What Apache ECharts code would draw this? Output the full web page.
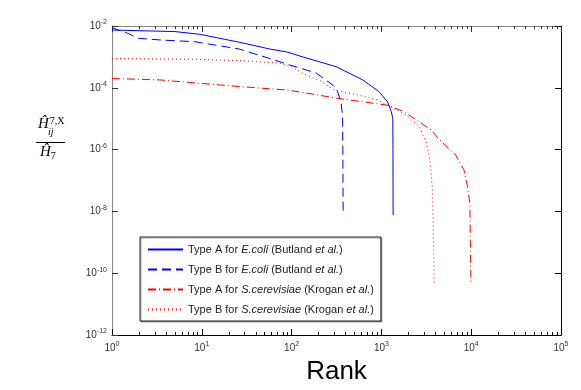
<!DOCTYPE html>
<html>
<head>
<meta charset="utf-8">
<script src="https://cdn.jsdelivr.net/npm/echarts@6/dist/echarts.min.js"></script>
<style>
  html, body { margin: 0; padding: 0; background: #fff; }
  #main { width: 581px; height: 390px; }
</style>
</head>
<body>
<div id="main"></div>
<script>
// values (rank, normalised H)
var rankAEcoli = [1, 5, 9.5, 26, 57, 88, 133, 314, 620, 945, 1170, 1290, 1340, 1345, 1350];
var valAEcoli  = [7.4e-3, 6.6e-3, 5.4e-3, 3.0e-3, 1.8e-3, 1.45e-3, 1.0e-3, 4.8e-4, 1.8e-4, 7.4e-5, 3.5e-5, 1.7e-5, 1.0e-5, 1.0e-6, 7.6e-9];

var rankBEcoli = [1, 1.17, 1.5, 1.96, 3.6, 8.4, 26, 57, 95, 188, 290, 326, 356, 370, 372, 375];
var valBEcoli  = [8.9e-3, 7.4e-3, 5.8e-3, 4.0e-3, 3.5e-3, 3.1e-3, 1.8e-3, 8.9e-4, 5.5e-4, 3.0e-4, 1.2e-4, 7.4e-5, 3.2e-5, 1.15e-5, 1.0e-6, 7.6e-9];

var rankACere = [1, 3.4, 9.5, 26, 88, 170, 315, 635, 1150, 1770, 2450, 3600, 4300, 5600, 6700, 8300, 9100, 9660, 9930];
var valACere  = [2.0e-4, 1.8e-4, 1.4e-4, 1.1e-4, 8.5e-5, 6.3e-5, 4.6e-5, 3.5e-5, 2.75e-5, 1.7e-5, 9.1e-6, 4.3e-6, 2.3e-6, 1.1e-6, 6.8e-7, 2.2e-7, 6.3e-8, 1.8e-8, 4.7e-11];

var rankBCere = [1, 9.5, 26, 73, 100, 130, 215, 300, 540, 900, 1230, 1880, 2645, 3140, 3415, 3565, 3715, 3880];
var valBCere  = [8.9e-4, 8.3e-4, 7.6e-4, 6.3e-4, 4.8e-4, 3.0e-4, 1.6e-4, 8.5e-5, 5.9e-5, 4.1e-5, 2.5e-5, 1.3e-5, 5.5e-6, 1.8e-6, 5.9e-7, 2.2e-7, 3.9e-8, 4.8e-11];

// minor tick positions 2..9 in each decade
var xMinor = [];
for (var d = 1; d < 100000; d *= 10) {
  for (var k = 2; k <= 9; k++) xMinor.push(k * d);
}

var names = [
  'Type A for E.coli (Butland et al.)',
  'Type B for E.coli (Butland et al.)',
  'Type A for S.cerevisiae (Krogan et al.)',
  'Type B for S.cerevisiae (Krogan et al.)'
];
var legendRich = {};
legendRich[names[0]] = 'Type A for {i|E.coli} (Butland {i|et al.})';
legendRich[names[1]] = 'Type B for {i|E.coli} (Butland {i|et al.})';
legendRich[names[2]] = 'Type A for {i|S.cerevisiae} (Krogan {i|et al.})';
legendRich[names[3]] = 'Type B for {i|S.cerevisiae} (Krogan {i|et al.})';

function pairs(xs, ys) {
  var out = [];
  for (var i = 0; i < xs.length; i++) out.push([xs[i], ys[i]]);
  return out;
}

function powLabel(v) {
  var e = Math.round(Math.log(v) / Math.LN10);
  return '{b|10}{s|' + e + '}';
}
var labelRich = {
  b: { fontSize: 10, color: '#333', fontFamily: 'Liberation Sans' },
  s: { fontSize: 7, color: '#333', fontFamily: 'Liberation Sans', padding: [0, 0, 7, 0] }
};

var font = 'Liberation Sans';
var chart = echarts.init(document.getElementById('main'));

function logX(pos, extra) {
  var a = { type: 'log', logBase: 10, min: 1, max: 100000, position: pos, splitLine: { show: false } };
  for (var key in extra) a[key] = extra[key];
  return a;
}
function logY(pos, extra) {
  var a = { type: 'log', logBase: 10, min: 1e-12, max: 1e-2, interval: 2, position: pos, splitLine: { show: false } };
  for (var key in extra) a[key] = extra[key];
  return a;
}

var option = {
  backgroundColor: '#fff',
  animation: false,
  grid: { left: 112, right: 20, top: 26, bottom: 55 },
  legend: {
    orient: 'vertical',
    left: 140,
    top: 237,
    itemWidth: 35,
    itemHeight: 10,
    itemGap: 9,
    padding: [7, 7, 6, 7],
    borderColor: '#222',
    borderWidth: 1,
    backgroundColor: '#fff',
    shadowColor: 'rgba(0,0,0,0.35)',
    shadowOffsetX: 1,
    shadowOffsetY: 1,
    shadowBlur: 0,
    itemStyle: { opacity: 0 },
    data: names,
    formatter: function (n) { return legendRich[n]; },
    textStyle: {
      fontFamily: font, fontSize: 11, color: '#222',
      rich: { i: { fontFamily: font, fontSize: 11, fontStyle: 'italic', color: '#222' } }
    }
  },
  xAxis: [
    logX('bottom', {
      name: 'Rank', nameLocation: 'middle', nameGap: 24,
      nameTextStyle: { fontFamily: font, fontSize: 26, color: '#000' },
      axisLine: { show: true, lineStyle: { color: '#000', width: 1 } },
      axisTick: { show: true, inside: true, length: 6, lineStyle: { color: '#000', width: 1 } },
      axisLabel: { formatter: powLabel, rich: labelRich, margin: 6 }
    }),
    logX('top', {
      axisLine: { show: true, lineStyle: { color: '#888', width: 1 } },
      axisTick: { show: true, inside: true, length: 6, lineStyle: { color: '#333', width: 1 } },
      axisLabel: { show: false }
    }),
    logX('bottom', {
      axisLine: { show: false },
      axisTick: { show: true, inside: true, length: 3, customValues: xMinor, lineStyle: { color: '#000', width: 1 } },
      axisLabel: { show: false }
    }),
    logX('top', {
      axisLine: { show: false },
      axisTick: { show: true, inside: true, length: 3, customValues: xMinor, lineStyle: { color: '#333', width: 1 } },
      axisLabel: { show: false }
    })
  ],
  yAxis: [
    logY('left', {
      axisLine: { show: true, lineStyle: { color: '#888', width: 1 } },
      axisTick: { show: true, inside: true, length: 6, lineStyle: { color: '#333', width: 1 } },
      axisLabel: { formatter: powLabel, rich: labelRich, margin: 5 }
    }),
    logY('right', {
      axisLine: { show: true, lineStyle: { color: '#000', width: 1 } },
      axisTick: { show: true, inside: true, length: 6, lineStyle: { color: '#000', width: 1 } },
      axisLabel: { show: false }
    })
  ],
  graphic: [
    {
      type: 'text', left: 38, top: 116,
      style: {
        text: '{h|Ĥ}{sup|7,X}',
        rich: {
          h: { fontFamily: 'Liberation Serif', fontStyle: 'italic', fontSize: 15, color: '#000' },
          sup: { fontFamily: 'Liberation Serif', fontSize: 10, color: '#000', padding: [0, 0, 7, 1] }
        }
      }
    },
    {
      type: 'text', left: 48, top: 127,
      style: { text: 'ij', fontFamily: 'Liberation Serif', fontStyle: 'italic', fontSize: 10, fill: '#000' }
    },
    {
      type: 'line', shape: { x1: 36, y1: 142.5, x2: 65, y2: 142.5 },
      style: { stroke: '#000', lineWidth: 1 }
    },
    {
      type: 'text', left: 40, top: 145,
      style: {
        text: '{h|Ĥ}{sub|7}',
        rich: {
          h: { fontFamily: 'Liberation Serif', fontStyle: 'italic', fontSize: 15, color: '#000' },
          sub: { fontFamily: 'Liberation Serif', fontSize: 10, color: '#000', padding: [7, 0, 0, 0] }
        }
      }
    }
  ],
  series: [
    {
      name: names[0], type: 'line', symbol: 'none', xAxisIndex: 0, yAxisIndex: 0,
      data: pairs(rankAEcoli, valAEcoli),
      lineStyle: { color: '#0000ff', width: 1, type: 'solid' },
      itemStyle: { color: '#0000ff' }
    },
    {
      name: names[1], type: 'line', symbol: 'none', xAxisIndex: 0, yAxisIndex: 0,
      data: pairs(rankBEcoli, valBEcoli),
      lineStyle: { color: '#0000ff', width: 1, type: [9, 5] },
      itemStyle: { color: '#0000ff' }
    },
    {
      name: names[2], type: 'line', symbol: 'none', xAxisIndex: 0, yAxisIndex: 0,
      data: pairs(rankACere, valACere),
      lineStyle: { color: '#ff0000', width: 1, type: [8, 3, 1, 3] },
      itemStyle: { color: '#ff0000' }
    },
    {
      name: names[3], type: 'line', symbol: 'none', xAxisIndex: 0, yAxisIndex: 0,
      data: pairs(rankBCere, valBCere),
      lineStyle: { color: '#ff0000', width: 1, type: [1, 3] },
      itemStyle: { color: '#ff0000' }
    }
  ]
};
chart.setOption(option);
</script>
</body>
</html>
